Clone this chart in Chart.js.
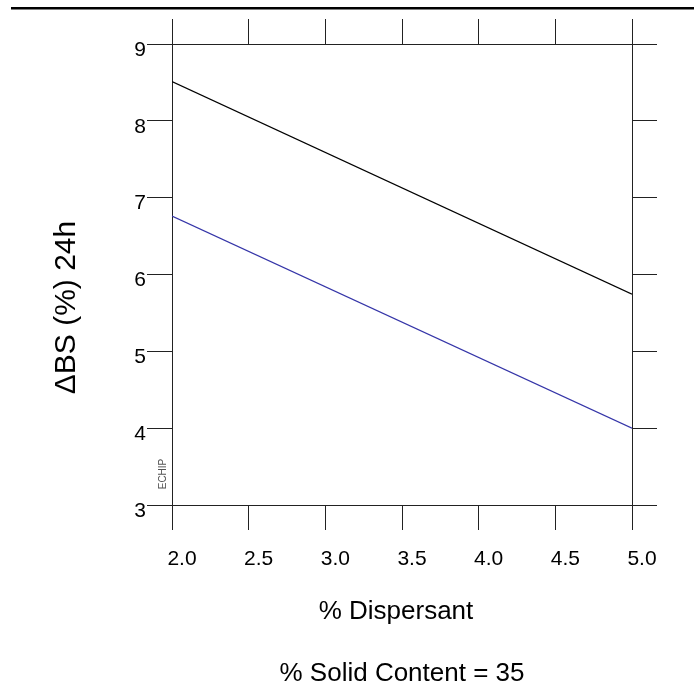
<!DOCTYPE html>
<html>
<head>
<meta charset="utf-8">
<script src="https://cdn.jsdelivr.net/npm/chart.js@4/dist/chart.umd.min.js"></script>
<style>
  html, body { margin: 0; padding: 0; background: #fff; }
  #wrap { width: 694px; height: 693px; }
</style>
</head>
<body>
<div id="wrap"><canvas id="c" width="694" height="693"></canvas></div>
<script>
// ---- data ----
const xValues = [2.0, 5.0];
const blackSeries = [8.51, 5.745];
const blueSeries = [6.76, 4.0];
const xTicks = [2.0, 2.5, 3.0, 3.5, 4.0, 4.5, 5.0];
const xTickLabels = ['2.0', '2.5', '3.0', '3.5', '4.0', '4.5', '5.0'];
const yTicks = [3, 4, 5, 6, 7, 8, 9];
const yTickLabels = ['3', '4', '5', '6', '7', '8', '9'];
const xTitle = '% Dispersant';
const yTitle = '\u0394BS (%) 24h';
const subTitle = '% Solid Content = 35';
const watermark = 'ECHIP';

const FONT = "'Liberation Sans', Arial, sans-serif";
const AXIS = '#222';

function setTicks(list) {
  return function (axis) { axis.ticks = list.map(v => ({ value: v })); };
}
function fixed(w, h) {
  return function (axis) {
    if (w !== null) axis.width = w;
    if (h !== null) axis.height = h;
  };
}

const decor = {
  id: 'decor',
  afterDraw(chart) {
    const ctx = chart.ctx;
    const a = chart.chartArea;
    ctx.save();
    // thick rule at the top of the page
    ctx.fillStyle = '#000';
    ctx.fillRect(11, 7, 683, 2.5);

    // x axis title
    ctx.fillStyle = '#000';
    ctx.font = '26px ' + FONT;
    ctx.textAlign = 'center';
    ctx.textBaseline = 'middle';
    ctx.fillText(xTitle, (a.left + a.right) / 2 - 6, a.bottom + 107);

    // y axis title (rotated)
    ctx.save();
    ctx.translate(67, (a.top + a.bottom) / 2 + 33);
    ctx.rotate(-Math.PI / 2);
    ctx.font = '30px ' + FONT;
    ctx.fillText(yTitle, 0, 0);
    ctx.restore();

    // small rotated watermark
    ctx.save();
    ctx.translate(a.left - 9, a.bottom - 31);
    ctx.rotate(-Math.PI / 2);
    ctx.fillStyle = '#555';
    ctx.font = '10px ' + FONT;
    ctx.fillText(watermark, 0, 0);
    ctx.restore();
    ctx.restore();
  }
};

new Chart(document.getElementById('c'), {
  type: 'line',
  data: {
    datasets: [
      {
        data: xValues.map((x, i) => ({ x: x, y: blackSeries[i] })),
        borderColor: '#000',
        borderWidth: 1.2,
        pointRadius: 0,
        tension: 0,
        xAxisID: 'x',
        yAxisID: 'y'
      },
      {
        data: xValues.map((x, i) => ({ x: x, y: blueSeries[i] })),
        borderColor: '#3535a8',
        borderWidth: 1.2,
        pointRadius: 0,
        tension: 0,
        xAxisID: 'x',
        yAxisID: 'y'
      }
    ]
  },
  options: {
    responsive: false,
    animation: false,
    layout: { padding: 0 },
    plugins: {
      legend: { display: false },
      tooltip: { enabled: false },
      title: { display: false },
      subtitle: {
        display: true,
        text: subTitle,
        position: 'bottom',
        fullSize: false,
        color: '#000',
        font: { family: FONT, size: 26, weight: 'normal', lineHeight: 1.2 },
        padding: { top: 0, bottom: 4 }
      }
    },
    scales: {
      x: {
        type: 'linear',
        position: 'bottom',
        min: 2, max: 5,
        afterBuildTicks: setTicks(xTicks),
        afterFit: fixed(null, 152.8),
        ticks: {
          callback: (v, i) => xTickLabels[i],
          color: '#000',
          font: { family: FONT, size: 21 },
          labelOffset: 10,
          padding: 17,
          maxRotation: 0,
          autoSkip: false
        },
        grid: { drawOnChartArea: false, drawTicks: true, tickLength: 25, color: AXIS, lineWidth: 1 },
        border: { display: true, color: AXIS, width: 1 }
      },
      x2: {
        type: 'linear',
        position: 'top',
        min: 2, max: 5,
        afterBuildTicks: setTicks(xTicks),
        afterFit: fixed(null, 44),
        ticks: { display: false },
        grid: { drawOnChartArea: false, drawTicks: true, tickLength: 25, color: AXIS, lineWidth: 1 },
        border: { display: true, color: AXIS, width: 1 }
      },
      y: {
        type: 'linear',
        position: 'left',
        min: 3, max: 9,
        afterBuildTicks: setTicks(yTicks),
        afterFit: fixed(172, null),
        ticks: {
          callback: (v, i) => yTickLabels[i],
          color: '#000',
          font: { family: FONT, size: 21 },
          labelOffset: 6,
          padding: 1,
          autoSkip: false
        },
        grid: { drawOnChartArea: false, drawTicks: true, tickLength: 25, color: AXIS, lineWidth: 1 },
        border: { display: true, color: AXIS, width: 1 }
      },
      y2: {
        type: 'linear',
        position: 'right',
        min: 3, max: 9,
        afterBuildTicks: setTicks(yTicks),
        afterFit: fixed(62, null),
        ticks: { display: false },
        grid: { drawOnChartArea: false, drawTicks: true, tickLength: 25, color: AXIS, lineWidth: 1 },
        border: { display: true, color: AXIS, width: 1 }
      }
    }
  },
  plugins: [decor]
});
</script>
</body>
</html>
